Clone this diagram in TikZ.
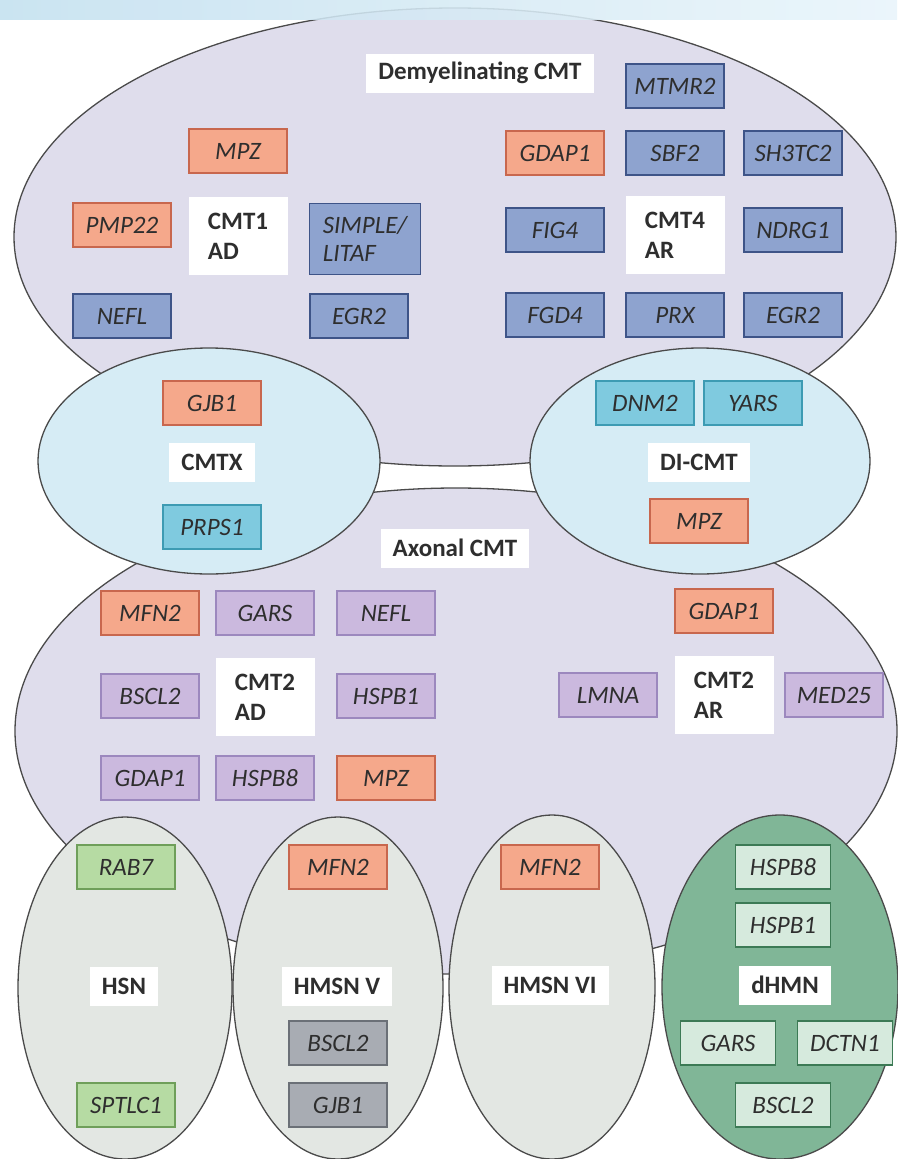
\documentclass[tikz,border=0pt]{standalone}
\usepackage{fontspec}
\setmainfont{Carlito}

\definecolor{txt}{HTML}{2E2E2E}
\definecolor{rim}{HTML}{4A4A4A}
\definecolor{bandL}{HTML}{C3E0EF}
\definecolor{bandR}{HTML}{E8F4FA}
\definecolor{lavender}{HTML}{DFDDEC}
\definecolor{paleblue}{HTML}{D6ECF5}
\definecolor{palegrey}{HTML}{E3E7E3}
\definecolor{seagreen}{HTML}{80B697}
\definecolor{salmonfill}{HTML}{F5A88B}
\definecolor{salmonline}{HTML}{C8674E}
\definecolor{bluefill}{HTML}{8EA3CF}
\definecolor{blueline}{HTML}{3E5488}
\definecolor{cyanfill}{HTML}{7FCADF}
\definecolor{cyanline}{HTML}{3D9BB3}
\definecolor{purplefill}{HTML}{CBB9DE}
\definecolor{purpleline}{HTML}{9C88BE}
\definecolor{greenfill}{HTML}{B6DBA3}
\definecolor{greenline}{HTML}{6F9F5A}
\definecolor{greyfill}{HTML}{A8ACB3}
\definecolor{greyline}{HTML}{6B7077}
\definecolor{mintfill}{HTML}{D6EADD}
\definecolor{mintline}{HTML}{3C7A55}

\begin{document}
\begin{tikzpicture}[
    x=1pt, y=-1pt,
    group/.style={draw=rim, line width=1.3pt},
    gene/.style={
      draw, line width=1.2pt,
      font=\fontsize{25}{28}\selectfont\itshape,
      text=txt,
      minimum width=98pt,
      minimum height=44pt,
      inner sep=0pt, align=left
    },
    salmon/.style={gene, fill=salmonfill, draw=salmonline},
    bluish/.style={gene, fill=bluefill, draw=blueline},
    cyanish/.style={gene, fill=cyanfill, draw=cyanline},
    purple/.style={gene, fill=purplefill, draw=purpleline},
    greenish/.style={gene, fill=greenfill, draw=greenline},
    greyish/.style={gene, fill=greyfill, draw=greyline},
    mint/.style={gene, fill=mintfill, draw=mintline, minimum width=95pt},
    tag/.style={
      fill=white, text=txt,
      font=\fontsize{25}{30}\selectfont\bfseries,
      minimum height=39pt, inner xsep=12pt, inner ysep=0pt, align=left
    },
    bigtag/.style={tag, minimum width=99pt, minimum height=78pt}
  ]
  \useasboundingbox (0,0) rectangle (897,1159);

  % Demyelinating and axonal groups
  \filldraw[group, fill=lavender] (455,237) ellipse [x radius=441, y radius=229];
  \filldraw[group, fill=lavender] (456,731) ellipse [x radius=441, y radius=243];

  % top strip
  \shade[left color=bandL, right color=bandR, opacity=.88] (0,0) rectangle (897,19);

  % Intermediate groups
  \filldraw[group, fill=paleblue] (209,461) ellipse [x radius=171, y radius=113];
  \filldraw[group, fill=paleblue] (700,461) ellipse [x radius=170, y radius=113];

  % Bottom groups
  \filldraw[group, fill=palegrey] (125,988) ellipse [x radius=107, y radius=171];
  \filldraw[group, fill=palegrey] (338,988) ellipse [x radius=105, y radius=171];
  \filldraw[group, fill=palegrey] (552,987) ellipse [x radius=103, y radius=172];
  \filldraw[group, fill=seagreen] (780,987) ellipse [x radius=118, y radius=172];

  % Demyelinating CMT
  \node[tag] (demy) at (480,73) {Demyelinating CMT};
  \node[bluish] (mtmr2) at (675,86) {MTMR2};

  \node[bigtag] (cmt1) at (238,236) {CMT1\\AD};
  \node[salmon] (mpzA) at (238,151) {MPZ};
  \node[salmon] (pmp22) at (122,225) {PMP22};
  \node[bluish, minimum width=111pt, minimum height=71pt] (litaf) at (365,239) {SIMPLE/\\LITAF};
  \node[bluish] (neflA) at (122,316) {NEFL};
  \node[bluish] (egr2A) at (359,316) {EGR2};

  \node[bigtag] (cmt4) at (675,235) {CMT4\\AR};
  \node[salmon] (gdap1A) at (555,153) {GDAP1};
  \node[bluish] (sbf2) at (675,153) {SBF2};
  \node[bluish] (sh3tc2) at (793,153) {SH3TC2};
  \node[bluish] (fig4) at (555,230) {FIG4};
  \node[bluish] (ndrg1) at (793,230) {NDRG1};
  \node[bluish] (fgd4) at (555,315) {FGD4};
  \node[bluish] (prx) at (675,315) {PRX};
  \node[bluish] (egr2B) at (793,315) {EGR2};

  % CMTX and DI-CMT
  \node[tag] (cmtx) at (212,462) {CMTX};
  \node[salmon] (gjb1A) at (212,403) {GJB1};
  \node[cyanish] (prps1) at (212,527) {PRPS1};

  \node[tag] (dicmt) at (699,462) {DI-CMT};
  \node[cyanish] (dnm2) at (645,403) {DNM2};
  \node[cyanish] (yars) at (753,403) {YARS};
  \node[salmon] (mpzB) at (699,521) {MPZ};

  % Axonal CMT
  \node[tag] (axon) at (455,548) {Axonal CMT};

  \node[bigtag] (cmt2d) at (265,697) {CMT2\\AD};
  \node[salmon] (mfn2A) at (150,613) {MFN2};
  \node[purple] (garsA) at (265,613) {GARS};
  \node[purple] (neflB) at (386,613) {NEFL};
  \node[purple] (bscl2A) at (150,696) {BSCL2};
  \node[purple] (hspb1A) at (386,696) {HSPB1};
  \node[purple] (gdap1B) at (150,778) {GDAP1};
  \node[purple] (hspb8A) at (265,778) {HSPB8};
  \node[salmon] (mpzC) at (386,778) {MPZ};

  \node[bigtag] (cmt2r) at (724,695) {CMT2\\AR};
  \node[salmon] (gdap1C) at (724,611) {GDAP1};
  \node[purple] (lmna) at (608,695) {LMNA};
  \node[purple] (med25) at (834,695) {MED25};

  % HSN, HMSN V, HMSN VI, dHMN
  \node[tag] (hsn) at (124,986) {HSN};
  \node[greenish] (rab7) at (126,867) {RAB7};
  \node[greenish] (sptlc1) at (126,1105) {SPTLC1};

  \node[tag] (hmsn5) at (337,986) {HMSN V};
  \node[salmon] (mfn2B) at (338,867) {MFN2};
  \node[greyish] (bscl2B) at (338,1043) {BSCL2};
  \node[greyish] (gjb1B) at (338,1105) {GJB1};

  \node[tag] (hmsn6) at (550,985) {HMSN VI};
  \node[salmon] (mfn2C) at (550,867) {MFN2};

  \node[tag] (dhmn) at (785,985) {dHMN};
  \node[mint] (hspb8B) at (783,867) {HSPB8};
  \node[mint] (hspb1B) at (783,925) {HSPB1};
  \node[mint] (garsB) at (728,1043) {GARS};
  \node[mint] (dctn1) at (845,1043) {DCTN1};
  \node[mint] (bscl2C) at (783,1105) {BSCL2};

\end{tikzpicture}
\end{document}
